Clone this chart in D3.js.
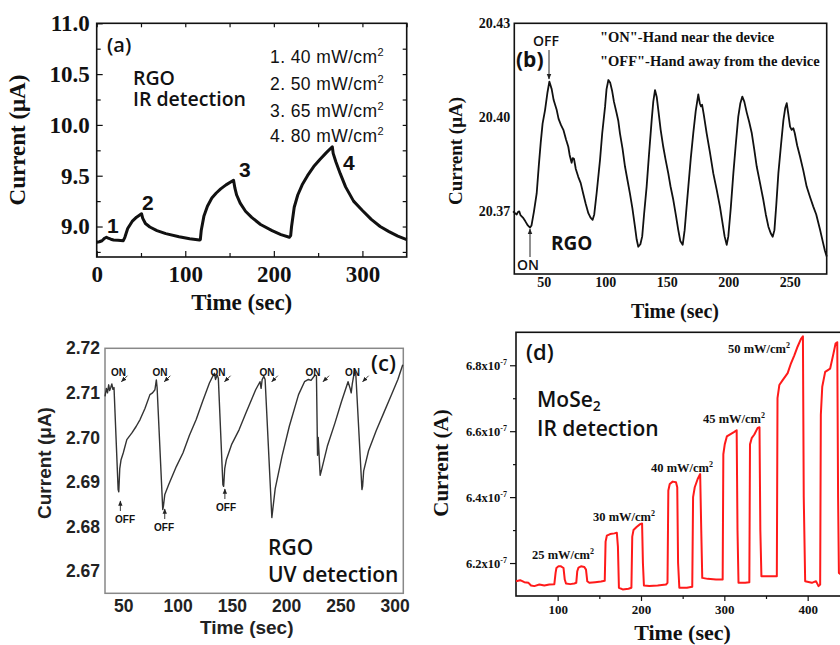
<!DOCTYPE html>
<html><head><meta charset="utf-8">
<script src="https://cdn.jsdelivr.net/npm/d3@7"></script>
<style>body{margin:0;background:#fff}svg{display:block}</style>
</head><body>
<script>
// ---------- DATA ----------
// Panel (a): RGO IR detection
const aTime=[0,3,6,9,11,13,16,19,24,30,31.8,35,40,45,50.6,52,55,60,68,78,93,105,116,117,118,121,125,130,135,140,146,154.5,156,158,162,168,175,185,198,208,217.5,219,220,223,227,232,238,245,252,259,266,267,270,275,281,290,300,310,320,330,340,350];
const aCurrent=[8.845,8.85,8.86,8.885,8.895,8.885,8.875,8.868,8.865,8.861,8.894,8.98,9.05,9.092,9.126,9.08,9.03,8.995,8.96,8.93,8.90,8.88,8.868,8.87,8.96,9.1,9.2,9.28,9.33,9.37,9.41,9.455,9.38,9.31,9.23,9.15,9.09,9.02,8.96,8.92,8.894,8.91,9.0,9.19,9.31,9.41,9.50,9.59,9.66,9.725,9.785,9.72,9.637,9.52,9.39,9.25,9.158,9.07,9.0,8.95,8.905,8.87];
const aXTicks=[0,100,200,300];
const aYTicks=[9.0,9.5,10.0,10.5,11.0];
const aLegend=["1. 40 mW/cm","2. 50 mW/cm","3. 65 mW/cm","4. 80 mW/cm"];

// Panel (b): RGO hand proximity
const bTime=[25,26.6,28,29,30,31,33,35,37,38.8,40,42,44.2,46,47.5,49,51,53,54.5,56.4,58,60.5,62,64,65.9,68,69.9,71,72.6,73.5,74.5,76,78,80,82,84,86.2,88,89.7,91,93,95.7,97.5,99.8,101,102.5,104,105.5,107,109.2,110.5,111.9,114,116,118,120,122,124.1,125.5,126.8,128.5,130,131.5,133.6,135.5,137.7,139,140.4,141.8,143.1,145,147.1,149,151.2,153,155.3,157.5,159.3,161,162.9,164.5,166,167.5,169.5,171.5,173.5,175.6,176.8,177.8,178.7,180,182.4,185,187.8,190.5,193.2,195,197,198.7,200,202,204.1,206,208.1,209.8,211.4,213,215,217,219.1,221,223.1,225.8,228.5,230.5,232.6,234.5,236.1,237.5,239,240.7,242.8,244.8,246.3,247.5,248.8,250.2,251.5,252.9,254,256,258.3,261,263.7,266.5,269.1,271.5,274.6,277,278.5,280];
const bCurrent=[20.3700,20.3694,20.3690,20.3698,20.3700,20.3688,20.3680,20.3668,20.3655,20.3648,20.3655,20.3700,20.3757,20.3850,20.3920,20.3980,20.4023,20.4080,20.4114,20.4090,20.4055,20.4023,20.3995,20.3975,20.3960,20.3930,20.3906,20.3880,20.3855,20.3870,20.3868,20.3835,20.3810,20.3790,20.3757,20.3725,20.3694,20.3680,20.3673,20.3690,20.3760,20.3864,20.3950,20.4034,20.4090,20.4119,20.4110,20.4085,20.4050,20.4013,20.3990,20.3949,20.3900,20.3843,20.3800,20.3757,20.3710,20.3651,20.3610,20.3587,20.3595,20.3620,20.3690,20.3779,20.3880,20.3991,20.4050,20.4087,20.4065,20.4023,20.3960,20.3906,20.3865,20.3821,20.3780,20.3736,20.3685,20.3641,20.3605,20.3593,20.3640,20.3710,20.3779,20.3870,20.3949,20.4020,20.4073,20.4045,20.4035,20.4040,20.4010,20.3949,20.3890,20.3821,20.3770,20.3715,20.3670,20.3620,20.3593,20.3620,20.3710,20.3821,20.3910,20.4002,20.4045,20.4066,20.4050,20.4015,20.3985,20.3949,20.3900,20.3843,20.3790,20.3736,20.3690,20.3651,20.3630,20.3619,20.3640,20.3720,20.3821,20.3910,20.3991,20.4030,20.4045,20.4010,20.3970,20.3960,20.3965,20.3950,20.3910,20.3875,20.3830,20.3779,20.3745,20.3715,20.3690,20.3641,20.3600,20.3575,20.3556];
const bXTicks=[50,100,150,200,250];
const bYTicks=[20.37,20.40,20.43];

// Panel (c): RGO UV detection
const cTime=[33.2,34.5,35.5,36.6,37.5,38.5,39.5,40.5,41.5,45.3,45.9,46.8,48,50,53.3,58,62,65.5,70,74.6,77,79.2,80.5,81.2,86.4,87,88.3,92,99,105,111,117.2,123,129.4,132,134,135,136.5,137.6,141.8,142.5,143.5,145,150,156.7,163,172,176,177,178,179.5,180.7,186.9,190,196.3,203,211.5,217,220.6,223,226.7,228,229,229.6,231.4,232.5,238,245,251,257.1,259,260,261,263.2,264.3,269.9,270.5,271.5,276,283,290,297,303,307.5];
const cCurrent=[2.7092,2.7110,2.7100,2.7118,2.7105,2.7112,2.7120,2.7108,2.7112,2.6883,2.6878,2.6930,2.6950,2.6965,2.6995,2.7010,2.7025,2.7040,2.7065,2.7096,2.7100,2.7107,2.7129,2.7112,2.6838,2.6845,2.6872,2.6895,2.6935,2.6965,2.7005,2.7040,2.7080,2.7122,2.7135,2.7144,2.7130,2.7140,2.7133,2.6894,2.6890,2.6930,2.6950,2.6985,2.7017,2.7055,2.7107,2.7125,2.7110,2.7130,2.7137,2.7130,2.6820,2.6885,2.6958,2.7025,2.7096,2.7125,2.7130,2.7128,2.7140,2.7138,2.6960,2.7000,2.6915,2.6925,2.6980,2.7032,2.7080,2.7125,2.7110,2.7100,2.7120,2.7151,2.7140,2.6883,2.6890,2.6925,2.6970,2.7015,2.7055,2.7095,2.7130,2.7163];
const cXTicks=[50,100,150,200,250,300];
const cYTicks=[2.67,2.68,2.69,2.70,2.71,2.72];
const cOnTime=[41,80.5,136,179.5,226.7,263.2];
const cOffTime=[45.5,86.4,141.8];

// Panel (d): MoSe2 IR detection (current in units of 1e-7 A)
const dTime=[50,55,60,65,68,72,78,84,90,96,97.5,98.5,101,104,107,108.5,110,115,120,122.3,123.5,125,128,132,134,135.5,138,145,152,156.5,157.5,159,163,168,171,172.3,173.5,178,185,188.5,189.5,191,195,199,201.3,202.3,203.5,210,220,230,231.8,232.8,234.5,238,242,243.5,244.5,246,255,261.5,262.5,264.5,268,271,272.3,273.5,280,290,298,298.8,300.5,303,308,312,314.8,315.8,317,325,330,330.8,333,336,340,342.2,343.2,344.5,355,363,363.8,366,370,376,380,384,388,392,394.3,395.3,397,405,410,413,415,415.8,417.5,421,427,431,433.5,435.5,436.5,437.5,445,460];
const dCurrent=[6.145,6.148,6.142,6.140,6.132,6.130,6.135,6.132,6.135,6.136,6.170,6.185,6.190,6.190,6.185,6.150,6.138,6.136,6.138,6.140,6.175,6.186,6.190,6.188,6.180,6.145,6.140,6.142,6.144,6.146,6.265,6.283,6.288,6.290,6.292,6.250,6.125,6.120,6.122,6.125,6.280,6.300,6.310,6.318,6.320,6.200,6.132,6.130,6.132,6.135,6.140,6.420,6.440,6.447,6.445,6.430,6.200,6.125,6.125,6.128,6.400,6.430,6.455,6.470,6.300,6.155,6.152,6.150,6.150,6.530,6.560,6.584,6.592,6.598,6.603,6.300,6.140,6.140,6.142,6.560,6.580,6.590,6.610,6.612,6.300,6.160,6.160,6.160,6.700,6.740,6.755,6.776,6.806,6.830,6.857,6.880,6.888,6.400,6.145,6.140,6.145,6.130,6.135,6.650,6.735,6.780,6.790,6.836,6.866,6.870,6.400,6.170,6.155,6.150];
const dXTicks=[100,200,300,400];
const dYTicks=[6.2,6.4,6.6,6.8];
const dLabels=["25 mW/cm","30 mW/cm","40 mW/cm","45 mW/cm","50 mW/cm"];

// ---------- DRAW ----------
const SERIF='"Liberation Serif","Times New Roman",serif';
const SANS='"Liberation Sans",Arial,sans-serif';
const OPEN='"Open Sans","Noto Sans",sans-serif';
const svg=d3.select("body").append("svg").attr("width",840).attr("height",645);
const defs=svg.append("defs");
defs.append("marker").attr("id","ah").attr("viewBox","0 0 10 10").attr("refX",9).attr("refY",5)
  .attr("markerWidth",6).attr("markerHeight",6).attr("orient","auto")
  .append("path").attr("d","M0,1L10,5L0,9z").attr("fill","#222");

function txt(g,x,y,s,o){
  o=o||{};
  const t=g.append("text").attr("x",x).attr("y",y).text(s)
    .attr("font-family",o.f||SANS).attr("font-size",o.s||14)
    .attr("font-weight",o.w||"normal").attr("fill",o.c||"#111")
    .attr("text-anchor",o.a||"start");
  if(o.r) t.attr("transform",`rotate(${o.r},${x},${y})`);
  return t;
}
function sup(t,s,size,dy){ t.append("tspan").attr("font-size",size).attr("dy",dy).text(s); return t;}
function styleAxis(sel,font,size,weight,color){
  sel.select(".domain").remove();
  sel.selectAll("text").attr("font-family",font).attr("font-size",size).attr("font-weight",weight).attr("fill",color||"#111");
  sel.selectAll("line").attr("stroke",color||"#111").attr("stroke-width",1.2);
}
const pairs=(xs,ys)=>xs.map((v,i)=>[v,ys[i]]);

// ===== Panel (a) =====
{
const x=d3.scaleLinear().domain([0,350]).range([96.7,406.7]);
const y=d3.scaleLinear().domain([8.7,11.0]).range([257,23.3]);
const g=svg.append("g");
const B=257,T=23.3,L=96.7,R=406.7;
g.append("g").attr("transform",`translate(0,${B})`).call(d3.axisBottom(x).tickValues(aXTicks).tickSize(-6).tickPadding(9).tickFormat(d3.format("d"))).call(s=>styleAxis(s,SERIF,23,"bold"));
g.append("g").attr("transform",`translate(0,${B})`).call(d3.axisBottom(x).tickValues([50,150,250]).tickSize(-4).tickFormat("")).call(s=>styleAxis(s,SERIF,23,"bold"));
g.append("g").attr("transform",`translate(0,${T})`).call(d3.axisTop(x).tickValues([0,50,100,150,200,250,300,350]).tickSize(-4).tickFormat("")).call(s=>styleAxis(s,SERIF,23,"bold"));
g.append("g").attr("transform",`translate(${L},0)`).call(d3.axisLeft(y).tickValues(aYTicks).tickSize(-6).tickPadding(7).tickFormat(d3.format(".1f"))).call(s=>styleAxis(s,SERIF,23,"bold"));
g.append("g").attr("transform",`translate(${L},0)`).call(d3.axisLeft(y).tickValues([8.75,9.25,9.75,10.25,10.75]).tickSize(-4).tickFormat("")).call(s=>styleAxis(s,SERIF,23,"bold"));
g.append("g").attr("transform",`translate(${R},0)`).call(d3.axisRight(y).tickValues([8.75,9.0,9.25,9.5,9.75,10.0,10.25,10.5,10.75]).tickSize(-4).tickFormat("")).call(s=>styleAxis(s,SERIF,23,"bold"));
g.append("rect").attr("x",L).attr("y",T).attr("width",R-L).attr("height",B-T).attr("fill","none").attr("stroke","#111").attr("stroke-width",1.6);
g.append("path").datum(pairs(aTime,aCurrent)).attr("d",d3.line().x(d=>x(d[0])).y(d=>y(d[1]))).attr("fill","none").attr("stroke","#111").attr("stroke-width",3).attr("stroke-linejoin","round");
txt(g,25,140,"Current (μA)",{f:SERIF,s:23,w:"bold",a:"middle",r:-90});
txt(g,241.7,310,"Time (sec)",{f:SERIF,s:23,w:"bold",a:"middle"});
txt(g,107,52,"(a)",{f:OPEN,s:20,w:600});
txt(g,133,85,"RGO",{f:OPEN,s:19.5,w:600});
txt(g,133,106,"IR detection",{f:OPEN,s:19.5,w:600});
const ly=[63,90,117,142];
aLegend.forEach((s,i)=>sup(txt(g,270,ly[i],s,{f:SANS,s:17.5}).attr("letter-spacing",0.4),"2",11,-7));
txt(g,107,233,"1",{f:SANS,s:21,w:"bold"});
txt(g,142,210,"2",{f:SANS,s:21,w:"bold"});
txt(g,239,177,"3",{f:SANS,s:21,w:"bold"});
txt(g,343,170,"4",{f:SANS,s:21,w:"bold"});
}

// ===== Panel (b) =====
{
const x=d3.scaleLinear().domain([26,280]).range([514.3,826.7]);
const y=d3.scaleLinear().domain([20.35,20.43]).range([274,23.3]);
const g=svg.append("g");
const B=274,T=23.3,L=514.3,R=826.7;
g.append("g").attr("transform",`translate(0,${B})`).call(d3.axisBottom(x).tickValues(bXTicks).tickSize(0).tickPadding(3).tickFormat(d3.format("d"))).call(s=>styleAxis(s,SERIF,14,"bold"));
g.append("g").attr("transform",`translate(${L},0)`).call(d3.axisLeft(y).tickValues(bYTicks).tickSize(0).tickPadding(4).tickFormat(d3.format(".2f"))).call(s=>styleAxis(s,SERIF,14,"bold"));
g.append("rect").attr("x",L).attr("y",T).attr("width",R-L).attr("height",B-T).attr("fill","none").attr("stroke","#111").attr("stroke-width",1.6);
g.append("path").datum(pairs(bTime,bCurrent)).attr("d",d3.line().x(d=>x(d[0])).y(d=>y(d[1]))).attr("fill","none").attr("stroke","#111").attr("stroke-width",1.8).attr("stroke-linejoin","round");
txt(g,462,151,"Current (μA)",{f:SERIF,s:19,w:"bold",a:"middle",r:-90});
txt(g,675,318,"Time (sec)",{f:SERIF,s:20,w:"bold",a:"middle"});
txt(g,533,46,"OFF",{f:OPEN,s:14,w:600});
g.append("line").attr("x1",549).attr("y1",50).attr("x2",549).attr("y2",79).attr("stroke","#222").attr("stroke-width",1).attr("marker-end","url(#ah)");
txt(g,516,67,"(b)",{f:OPEN,s:21,w:"bold"});
txt(g,600,42,"\"ON\"-Hand near the device",{f:SERIF,s:14.5,w:"bold"});
txt(g,600,66,"\"OFF\"-Hand away from the device",{f:SERIF,s:14.5,w:"bold"});
txt(g,551,250,"RGO",{f:OPEN,s:19,w:"bold"});
txt(g,517,270,"ON",{f:OPEN,s:14,w:600});
g.append("line").attr("x1",530).attr("y1",257).attr("x2",530).attr("y2",229).attr("stroke","#222").attr("stroke-width",1).attr("marker-end","url(#ah)");
}

// ===== Panel (c) =====
{
const x=d3.scaleLinear().domain([33.2,308]).range([105,403.3]);
const y=d3.scaleLinear().domain([2.665,2.72]).range([593.3,348.3]);
const g=svg.append("g");
const B=593.3,T=348.3,L=105,R=403.3;
g.append("g").attr("transform",`translate(0,${B})`).call(d3.axisBottom(x).tickValues(cXTicks).tickSize(0).tickPadding(6).tickFormat(d3.format("d"))).call(s=>styleAxis(s,SANS,17.5,"bold","#222"));
g.append("g").attr("transform",`translate(${L},0)`).call(d3.axisLeft(y).tickValues(cYTicks).tickSize(0).tickPadding(5).tickFormat(d3.format(".2f"))).call(s=>styleAxis(s,SANS,17.5,"bold","#222"));
g.append("rect").attr("x",L).attr("y",T).attr("width",R-L).attr("height",B-T).attr("fill","none").attr("stroke","#888").attr("stroke-width",1.5);
g.append("path").datum(pairs(cTime,cCurrent)).attr("d",d3.line().x(d=>x(d[0])).y(d=>y(d[1]))).attr("fill","none").attr("stroke","#333").attr("stroke-width",1.4).attr("stroke-linejoin","round");
txt(g,51,463,"Current (μA)",{f:SANS,s:19,w:"bold",c:"#222",a:"middle",r:-90});
txt(g,246.7,634,"Time (sec)",{f:SANS,s:19,c:"#222",a:"middle"}).attr("font-weight","bold");
txt(g,371,371,"(c)",{f:OPEN,s:22,w:600});
txt(g,268,555,"RGO",{f:OPEN,s:21,w:600});
txt(g,268,582,"UV detection",{f:OPEN,s:21,w:600});
const onX=[118.5,160,218,267,313,352.5];
cOnTime.forEach((t,i)=>{
  txt(g,onX[i],376,"ON",{f:SANS,s:10,w:"bold"}).attr("text-anchor","middle");
  const px=x(t)+8, py=y(2.7125);
  g.append("line").attr("x1",px+6).attr("y1",py-6).attr("x2",px).attr("y2",py).attr("stroke","#222").attr("stroke-width",0.9).attr("marker-end","url(#ah)");
});
const offLab=[[125,523],[164,531],[226,511]];
cOffTime.forEach((t,i)=>{
  const [lx,ly]=offLab[i];
  txt(g,lx,ly,"OFF",{f:SANS,s:10,w:"bold"}).attr("text-anchor","middle");
  g.append("line").attr("x1",x(t)+2).attr("y1",ly-12).attr("x2",x(t)+2).attr("y2",ly-22).attr("stroke","#222").attr("stroke-width",0.9).attr("marker-end","url(#ah)");
});
}

// ===== Panel (d) =====
{
const x=d3.scaleLinear().domain([50,500]).range([516,891]);
const y=d3.scaleLinear().domain([6.1,6.9]).range([596,332.3]);
const g=svg.append("g");
const B=596,T=332.3,L=516,R=891;
const fmtD=d=>d.toFixed(1)+"x10";
const ax=g.append("g").attr("transform",`translate(${L},0)`).call(d3.axisLeft(y).tickValues(dYTicks).tickSize(6).tickPadding(3).tickFormat(fmtD)).call(s=>styleAxis(s,SERIF,12.5,"bold"));
ax.selectAll(".tick text").append("tspan").attr("font-size",8).attr("dy",-5).text("-7");
g.append("g").attr("transform",`translate(${L},0)`).call(d3.axisLeft(y).tickValues([6.3,6.5,6.7]).tickSize(3).tickFormat("")).call(s=>styleAxis(s,SERIF,12,"bold"));
g.append("g").attr("transform",`translate(0,${B})`).call(d3.axisBottom(x).tickValues(dXTicks).tickSize(5).tickPadding(4).tickFormat(d3.format("d"))).call(s=>styleAxis(s,SERIF,13,"bold"));
g.append("g").attr("transform",`translate(0,${B})`).call(d3.axisBottom(x).tickValues([150,250,350]).tickSize(3).tickFormat("")).call(s=>styleAxis(s,SERIF,12,"bold"));
g.append("rect").attr("x",L).attr("y",T).attr("width",R-L).attr("height",B-T).attr("fill","none").attr("stroke","#111").attr("stroke-width",1.6);
g.append("path").datum(pairs(dTime,dCurrent)).attr("d",d3.line().x(d=>x(d[0])).y(d=>y(d[1]))).attr("fill","none").attr("stroke","#ff1a1a").attr("stroke-width",2).attr("stroke-linejoin","round");
txt(g,448,463,"Current (A)",{f:SERIF,s:21,w:"bold",a:"middle",r:-90});
txt(g,682.5,640,"Time (sec)",{f:SERIF,s:22,w:"bold",a:"middle"});
txt(g,526,360,"(d)",{f:OPEN,s:22,w:600});
const m=txt(g,537,407,"MoSe",{f:OPEN,s:21,w:600});
m.append("tspan").attr("font-size",14).attr("dy",4).text("2");
txt(g,537,436,"IR detection",{f:OPEN,s:21,w:600});
const lp=[[532,559],[593,521],[651,472],[703,423],[728,353]];
dLabels.forEach((s,i)=>sup(txt(g,lp[i][0],lp[i][1],s,{f:SERIF,s:12.5,w:"bold"}),"2",8,-5));
}
</script>
</body></html>
